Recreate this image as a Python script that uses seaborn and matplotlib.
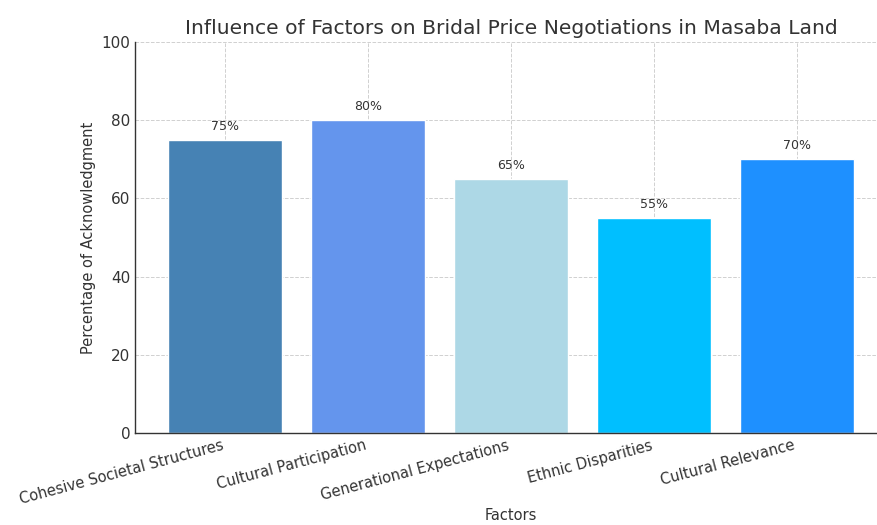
import matplotlib
matplotlib.use("Agg")
import matplotlib.pyplot as plt
import seaborn as sns
import pandas as pd

factors = ["Cohesive Societal Structures", "Cultural Participation",
           "Generational Expectations", "Ethnic Disparities", "Cultural Relevance"]
percentages = [75, 80, 65, 55, 70]
colors = ["steelblue", "cornflowerblue", "lightblue", "deepskyblue", "dodgerblue"]

df = pd.DataFrame({"Factor": factors, "Percent": percentages})

sns.set_style("white")
plt.rcParams["font.family"] = ["DejaVu Sans"]
text_color = "#333333"

fig, ax = plt.subplots(figsize=(8.78, 5.25), dpi=100)
fig.subplots_adjust(left=0.154, right=1.01, top=0.92, bottom=0.175)

sns.barplot(data=df, x="Factor", y="Percent", hue="Factor", palette=colors,
            legend=False, width=0.8, saturation=1, ax=ax, zorder=2)

for i, v in enumerate(percentages):
    ax.text(i, v + 1.8, f"{v}%", ha="center", va="bottom", fontsize=9, color=text_color)

ax.set_xlim(-0.63, 4.63)
ax.set_ylim(0, 100)
ax.set_title("Influence of Factors on Bridal Price Negotiations in Masaba Land",
             fontsize=14.6, color=text_color)
ax.set_xlabel("Factors", fontsize=10.5, color=text_color, labelpad=1)
ax.set_ylabel("Percentage of Acknowledgment", fontsize=10.5, color=text_color)
ax.grid(True, linestyle="--", color="#d0d0d0", linewidth=0.7, zorder=0)
ax.set_axisbelow(True)
ax.tick_params(direction="in", length=4, colors=text_color, labelsize=11)
ax.tick_params(axis="x", labelsize=10.5)
plt.setp(ax.get_xticklabels(), rotation=15, ha="right")
for s in ["top", "right"]:
    ax.spines[s].set_visible(False)
for s in ["left", "bottom"]:
    ax.spines[s].set_color(text_color)
    ax.spines[s].set_linewidth(1)

fig.savefig("out.png", dpi=100)
